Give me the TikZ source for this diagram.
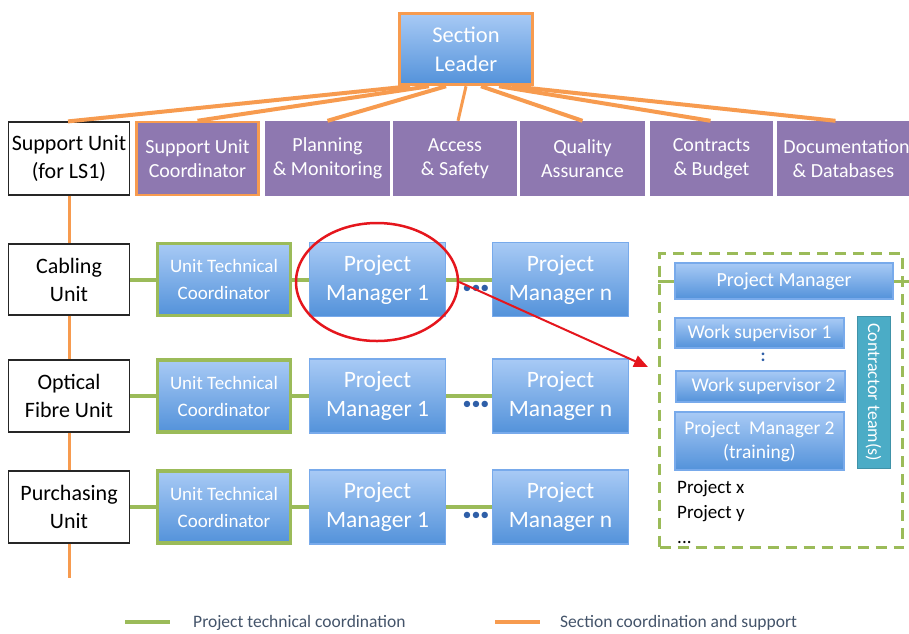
\documentclass[tikz,border=0pt]{standalone}
\usepackage{fontspec}
\setmainfont{Carlito}
\usetikzlibrary{shapes.geometric,arrows.meta,calc}
\definecolor{orangeL}{HTML}{F79B4F}
\definecolor{greenL}{HTML}{9BBB59}
\definecolor{purp}{HTML}{8E78B0}
\definecolor{bluetop}{HTML}{A8CAF5}
\definecolor{bluebot}{HTML}{5392DA}
\definecolor{blueedge}{HTML}{78AAEB}
\definecolor{ctteal}{HTML}{4BACC6}
\definecolor{legtext}{HTML}{44546A}
\definecolor{redc}{HTML}{E5161D}
\definecolor{dotblue}{HTML}{2F5FA8}
\tikzset{
  bluebox/.style={rectangle, top color=bluetop, bottom color=bluebot, draw=blueedge, line width=1.2pt, text=white, align=center, inner sep=0pt},
  pmbox/.style={bluebox, minimum width=136pt, minimum height=74pt, font=\fontsize{23.5}{29}\selectfont},
  utcbox/.style={bluebox, draw=greenL, line width=3.5pt, minimum width=133pt, minimum height=72pt, font=\fontsize{19}{27}\selectfont},
  purpbox/.style={rectangle, fill=purp, text=white, align=center, inner sep=0pt, minimum height=75pt, font=\fontsize{20}{24}\selectfont},
  unitbox/.style={rectangle, draw=black!85, line width=1.2pt, fill=white, align=center, inner sep=0pt, minimum width=121pt, font=\fontsize{22}{28}\selectfont},
  teambox/.style={bluebox, font=\fontsize{19.5}{24}\selectfont},
  oline/.style={draw=orangeL, line width=4pt},
  vline/.style={draw=orangeL, line width=3pt},
  gline/.style={draw=greenL, line width=4pt},
  dotsl/.style={text=dotblue, font=\fontsize{18}{18}\selectfont, inner sep=0pt},
  legtxt/.style={anchor=west, text=legtext, font=\fontsize{17.5}{19}\selectfont, inner sep=0pt}
}
\begin{document}
\begin{tikzpicture}[x=1pt,y=-1pt]
\fill[white] (0,0) rectangle (909,633);
\useasboundingbox (0,0) rectangle (909,633);

% top
\node[bluebox, draw=orangeL, line width=3.5pt, minimum width=133pt, minimum height=71pt, font=\fontsize{22.5}{29}\selectfont] (sl) at (466,49) {Section\\Leader};

% second row
\node[unitbox, minimum height=73pt] (su) at (69,158.5) {Support Unit\\(for LS1)};
\node[purpbox, draw=orangeL, line width=2.5pt, minimum width=122pt, minimum height=73pt] (suc) at (197.5,158.5) {Support Unit\\Coordinator};
\node[purpbox, minimum width=125pt] (plm) at (327.5,158.5) {Planning\\\& Monitoring};
\node[purpbox, minimum width=124pt] (acs) at (455,158.5) {Access\\\& Safety};
\node[purpbox, minimum width=125pt] (qa) at (582.5,158.5) {Quality\\Assurance};
\node[purpbox, minimum width=123pt] (cb) at (711.5,158.5) {Contracts\\\& Budget};
\node[purpbox, minimum width=131pt] (dd) at (843.5,158.5) {\hspace*{6pt}Documentation\\\& Databases};

\draw[oline] ([xshift=-56pt]sl.south) -- ([xshift=-1pt]su.north);
\draw[oline] ([xshift=-37pt]sl.south) -- (suc.north);
\draw[oline] ([xshift=-20pt]sl.south) -- (plm.north);
\draw[oline, line width=3pt] (sl.south) -- ([xshift=3pt]acs.north);
\draw[oline] ([xshift=15pt]sl.south) -- (qa.north);
\draw[oline] ([xshift=33pt]sl.south) -- ([xshift=-1pt]cb.north);
\draw[oline] ([xshift=46pt]sl.south) -- ([xshift=-8pt]dd.north);

% unit rows
\node[unitbox, minimum height=71pt] (cab) at (69,279.5) {Cabling\\Unit};
\node[unitbox, minimum height=72pt] (opt) at (69,396) {Optical\\Fibre Unit};
\node[unitbox, minimum height=72pt] (pur) at (69,507) {Purchasing\\Unit};
\coordinate (vend) at (69,578);

\draw[vline] (su) -- (cab);
\draw[vline] (cab) -- (opt);
\draw[vline] (opt) -- (pur);
\draw[vline] (pur) -- (vend);

\node[utcbox] (utc1) at (224,279.5) {Unit Technical\\Coordinator};
\node[utcbox] (utc2) at (224,396) {Unit Technical\\Coordinator};
\node[utcbox] (utc3) at (224,507) {Unit Technical\\Coordinator};

\node[pmbox] (pma) at (377.5,279.5) {Project\\Manager 1};
\node[pmbox] (pmb1) at (377.5,396) {Project\\Manager 1};
\node[pmbox] (pmc) at (377.5,507) {Project\\Manager 1};

\node[pmbox] (pna) at (560.5,279.5) {Project\\Manager n};
\node[pmbox] (pnb) at (560.5,396) {Project\\Manager n};
\node[pmbox] (pnc) at (560.5,507) {Project\\Manager n};

\draw[gline] (cab) -- (utc1);
\draw[gline] (utc1) -- (pma);
\draw[gline] (pma) -- (pna);
\draw[gline] (opt) -- (utc2);
\draw[gline] (utc2) -- (pmb1);
\draw[gline] (pmb1) -- (pnb);
\draw[gline] (pur) -- (utc3);
\draw[gline] (utc3) -- (pmc);
\draw[gline] (pmc) -- (pnc);

\node[dotsl] (d1) at (476,289) {•••};
\node[dotsl] (d2) at (476,405) {•••};
\node[dotsl] (d3) at (476,516) {•••};

% highlight
\node[ellipse, draw=redc, line width=2.5pt, minimum width=162pt, minimum height=118pt, inner sep=0pt] (ring) at (377,282) {};
\coordinate (tip) at (648,367);
\draw[redc, line width=2pt, -{Triangle[length=14pt,width=12pt]}] (ring.east) -- (tip);

% team box
\node[draw=greenL, line width=3pt, dash pattern=on 11pt off 7pt, minimum width=243pt, minimum height=294pt, inner sep=0pt] (team) at (781,400.5) {};
\node[teambox, minimum width=218pt, minimum height=36pt, font=\fontsize{20}{24}\selectfont] (pmbig) at (784,281) {Project Manager};
\coordinate (stubR) at (909,281);
\draw[gline, line width=3pt] (team.west |- pmbig.center) -- (pmbig.west);
\draw[gline, line width=3pt] (pmbig.east) -- (stubR);

\node[teambox, minimum width=169pt, minimum height=30pt] (ws1) at (759.5,333) {Work supervisor 1};
\node[text=dotblue, font=\fontsize{18}{18}\selectfont\bfseries, inner sep=0pt] (colon) at (763,357) {:};
\node[teambox, minimum width=169pt, minimum height=31pt] (ws2) at (760.5,386.5) {\hspace*{6pt}Work supervisor 2};
\node[teambox, minimum width=169pt, minimum height=58pt] (pm2) at (759.5,441) {Project\ \ Manager 2\\(training)};
\node[rectangle, fill=ctteal, draw=ctteal!85!black, line width=1pt, rotate=-90, minimum width=152pt, minimum height=33pt, inner sep=0pt, text=white, font=\fontsize{18}{20}\selectfont] (ct) at (873.5,392) {Contractor team(s)};
\node[anchor=west, align=left, inner sep=0pt, font=\fontsize{19}{25}\selectfont] (plist) at (677,512) {Project x\\Project y\\...};

% legend
\coordinate (lg1) at (125,622);
\coordinate (lg2) at (170,622);
\coordinate (lg3) at (495,622);
\coordinate (lg4) at (540,622);
\draw[gline] (lg1) -- (lg2);
\draw[oline] (lg3) -- (lg4);
\node[legtxt] (lt1) at (193,623) {Project technical coordination};
\node[legtxt] (lt2) at (560,623) {Section coordination and support};
\end{tikzpicture}
\end{document}
